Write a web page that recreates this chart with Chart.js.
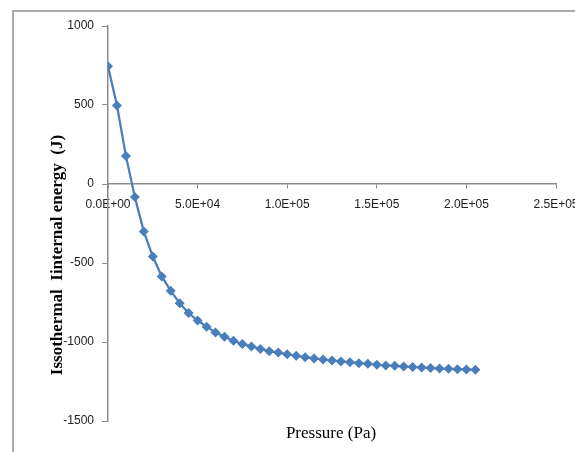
<!DOCTYPE html>
<html>
<head>
<meta charset="utf-8">
<script src="https://cdn.jsdelivr.net/npm/chart.js@4/dist/chart.umd.min.js"></script>
<style>
    body { margin: 0; background: #fff; overflow: hidden; }
    #wrap { position: relative; width: 575px; height: 452px; }
    #frame {
        position: absolute; left: 12px; top: 10px; width: 600px; height: 500px;
        border-left: 2px solid #ababab; border-top: 2px solid #ababab;
    }
    #chart { position: absolute; left: 0; top: 0; }
</style>
</head>
<body>
<div id="wrap">
    <div id="frame"></div>
    <canvas id="chart" width="575" height="452"></canvas>
</div>
<script>
const pressure = [
    0, 5000, 10000, 15000, 20000, 25000, 30000, 35000, 40000, 45000,
    50000, 55000, 60000, 65000, 70000, 75000, 80000, 85000, 90000, 95000,
    100000, 105000, 110000, 115000, 120000, 125000, 130000, 135000, 140000, 145000,
    150000, 155000, 160000, 165000, 170000, 175000, 180000, 185000, 190000, 195000,
    200000, 205000
];
const energy = [
    745, 497, 178, -83, -301, -459, -585, -676, -754, -817,
    -864, -903, -940, -967, -992, -1013, -1028, -1044, -1058, -1067,
    -1077, -1087, -1096, -1104, -1111, -1117, -1123, -1128, -1134, -1138,
    -1144, -1148, -1151, -1155, -1159, -1161, -1165, -1168, -1170, -1172,
    -1174, -1176
];
const xTicks = [0, 50000, 100000, 150000, 200000, 250000];
const yTicks = [-1500, -1000, -500, 0, 500, 1000];

const xTitle = 'Pressure (Pa)';
const yTitle = 'Issothermal  Iinternal energy  (J)';

function sci(v) {
    const parts = v.toExponential(1).split('e');
    const n = parseInt(parts[1], 10);
    return parts[0] + 'E' + (n < 0 ? '-' : '+') + String(Math.abs(n)).padStart(2, '0');
}

// axis titles sit where Excel put them, not where Chart.js would
const axisTitles = {
    id: 'axisTitles',
    afterDraw(chart) {
        const { ctx, chartArea } = chart;
        ctx.save();
        ctx.fillStyle = '#000';
        ctx.textAlign = 'center';
        ctx.textBaseline = 'middle';
        ctx.font = '17px "Liberation Serif"';
        ctx.fillText(xTitle, (chartArea.left + chartArea.right) / 2 - 1, chartArea.bottom + 13);
        ctx.translate(58, chartArea.top + 229);
        ctx.rotate(-Math.PI / 2);
        ctx.font = 'bold 17px "Liberation Serif"';
        ctx.fillText(yTitle, 0, 0);
        ctx.restore();
    }
};

const tickFont = { family: '"Liberation Sans"', size: 12 };

new Chart(document.getElementById('chart'), {
    type: 'scatter',
    data: {
        datasets: [{
            data: pressure.map((p, i) => ({ x: p, y: energy[i] })),
            showLine: true,
            borderColor: '#4a7ebb',
            backgroundColor: '#4a7ebb',
            borderWidth: 2.25,
            pointStyle: 'rectRot',
            pointRadius: 5,
            pointBorderWidth: 0,
            tension: 0
        }]
    },
    options: {
        responsive: false,
        devicePixelRatio: 1,
        animation: false,
        layout: { padding: { left: 0, top: 26, right: 19, bottom: 31 } },
        plugins: { legend: { display: false }, tooltip: { enabled: false } },
        scales: {
            x: {
                type: 'linear',
                position: { y: 0 },
                min: 0,
                max: 250000,
                afterBuildTicks: s => { s.ticks = xTicks.map(v => ({ value: v })); },
                afterFit: s => { s.height = 0; s.paddingLeft = 0; s.paddingRight = 0; },
                grid: { drawOnChartArea: false, drawTicks: true, tickLength: 4, color: '#8c8c8c' },
                border: { color: '#8c8c8c', width: 1.5 },
                ticks: { font: tickFont, color: '#222', padding: 9, maxRotation: 0, callback: v => sci(v) }
            },
            y: {
                min: -1500,
                max: 1000,
                afterBuildTicks: s => { s.ticks = yTicks.map(v => ({ value: v })); },
                afterFit: s => { s.width = 108; s.paddingTop = 0; s.paddingBottom = 0; },
                grid: { drawOnChartArea: false, drawTicks: true, tickLength: 6, color: '#8c8c8c' },
                border: { color: '#8c8c8c', width: 1.5 },
                ticks: { font: tickFont, color: '#222', padding: 8, callback: v => String(v) }
            }
        }
    },
    plugins: [axisTitles]
});
</script>
</body>
</html>
